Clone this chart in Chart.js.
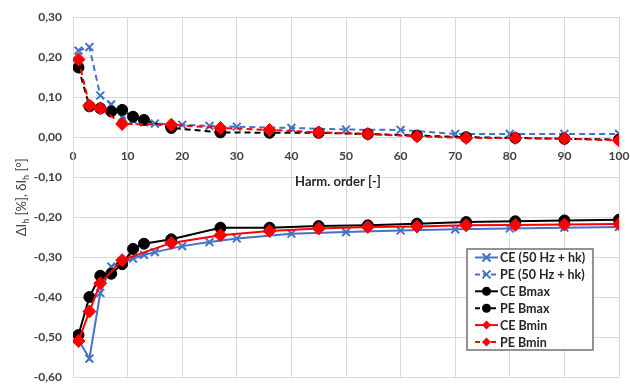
<!DOCTYPE html>
<html>
<head>
<meta charset="utf-8">
<script src="https://cdn.jsdelivr.net/npm/chart.js@4.4.0/dist/chart.umd.min.js"></script>
<style>
  html, body { margin: 0; padding: 0; background: #fff; }
  #wrap { width: 630px; height: 385px; position: relative; }
</style>
</head>
<body>
<div id="wrap"><canvas id="harmChart"></canvas></div>
<script>
// harmonic orders (x values) of each series group
const harmBlue = [1, 3, 5, 7, 9, 11, 13, 15, 20, 25, 30, 40, 50, 60, 70, 80, 90, 100];
const harmBlack = [1, 3, 5, 7, 9, 11, 13, 18, 27, 36, 45, 54, 63, 72, 81, 90, 100];
const harmRed = [1, 3, 5, 9, 18, 27, 36, 45, 54, 63, 72, 81, 90, 100];

// 50 Hz + hk
const ceBlue = [-0.505, -0.553, -0.389, -0.323, -0.312, -0.303, -0.294, -0.287, -0.272, -0.262, -0.253, -0.241, -0.237, -0.233, -0.230, -0.228, -0.226, -0.224];
const peBlue = [0.216, 0.225, 0.104, 0.082, 0.050, 0.042, 0.037, 0.034, 0.031, 0.028, 0.026, 0.023, 0.019, 0.018, 0.008, 0.008, 0.008, 0.008];
// Bmax
const ceBlack = [-0.494, -0.399, -0.346, -0.341, -0.317, -0.279, -0.266, -0.255, -0.226, -0.226, -0.222, -0.220, -0.216, -0.212, -0.210, -0.208, -0.206];
const peBlack = [0.174, 0.077, 0.072, 0.064, 0.068, 0.051, 0.043, 0.023, 0.012, 0.011, 0.011, 0.008, 0.004, 0.000, -0.002, -0.004, -0.006];
// Bmin
const ceRed = [-0.509, -0.435, -0.365, -0.307, -0.264, -0.245, -0.234, -0.228, -0.224, -0.223, -0.220, -0.219, -0.218, -0.217];
const peRed = [0.194, 0.079, 0.072, 0.033, 0.031, 0.023, 0.018, 0.012, 0.008, 0.002, -0.002, -0.002, -0.004, -0.008];

const seriesNames = ['CE (50 Hz + hk)', 'PE (50 Hz + hk)', 'CE Bmax', 'PE Bmax', 'CE Bmin', 'PE Bmin'];
const xTitle = 'Harm. order [-]';
const yTitleParts = [['ΔI', false], ['h', true], [' [%], δI', false], ['h', true], [' [°]', false]];

const BLUE = '#4472C4';
const FONT = 'Lato, "Open Sans", sans-serif';

function pts(xs, ys) {
    return xs.map((x, i) => ({ x: x, y: ys[i] }));
}

function series(label, xs, ys, color, marker, dashed, order) {
    const isCross = marker === 'crossRot';
    return {
        label: label,
        data: pts(xs, ys),
        showLine: true,
        borderColor: color,
        backgroundColor: color,
        borderWidth: 2,
        borderDash: dashed ? [6, 4] : [],
        pointStyle: marker,
        pointRadius: isCross ? 5.5 : (marker === 'circle' ? 5.5 : 6.5),
        pointBorderWidth: isCross ? 2 : 1,
        pointBackgroundColor: color,
        pointBorderColor: color,
        order: order
    };
}

// small marker painter for the legend
function drawMarker(ctx, style, x, y, r, color) {
    ctx.save();
    ctx.fillStyle = color;
    ctx.strokeStyle = color;
    ctx.setLineDash([]);
    ctx.beginPath();
    if (style === 'circle') {
        ctx.arc(x, y, r, 0, Math.PI * 2);
        ctx.fill();
    } else if (style === 'rectRot') {
        ctx.moveTo(x - r, y);
        ctx.lineTo(x, y - r);
        ctx.lineTo(x + r, y);
        ctx.lineTo(x, y + r);
        ctx.closePath();
        ctx.fill();
    } else {
        const d = r * 0.8;
        ctx.lineWidth = 2;
        ctx.moveTo(x - d, y - d); ctx.lineTo(x + d, y + d);
        ctx.moveTo(x + d, y - d); ctx.lineTo(x - d, y + d);
        ctx.stroke();
    }
    ctx.restore();
}

const overlayPlugin = {
    id: 'overlay',
    afterDraw(chart) {
        const ctx = chart.ctx;
        const area = chart.chartArea;
        const y0 = chart.scales.y.getPixelForValue(0);
        ctx.save();

        // x axis title under the zero line
        ctx.font = 'bold 13px ' + FONT;
        ctx.fillStyle = '#262626';
        ctx.textAlign = 'center';
        ctx.textBaseline = 'middle';
        ctx.fillText(xTitle, (area.left + area.right) / 2 - 8, y0 + 45);

        // y axis title with subscripts
        ctx.save();
        ctx.translate(22, (area.top + area.bottom) / 2);
        ctx.rotate(-Math.PI / 2);
        ctx.fillStyle = '#404040';
        ctx.textAlign = 'left';
        ctx.textBaseline = 'alphabetic';
        let total = 0;
        yTitleParts.forEach(p => {
            ctx.font = (p[1] ? '9px ' : '13px ') + FONT;
            total += ctx.measureText(p[0]).width;
        });
        let cx = -total / 2;
        yTitleParts.forEach(p => {
            ctx.font = (p[1] ? '9px ' : '13px ') + FONT;
            ctx.fillText(p[0], cx, p[1] ? 7 : 4);
            cx += ctx.measureText(p[0]).width;
        });
        ctx.restore();

        // legend box
        const bx = 467, by = 249, bw = 126, bh = 101;
        ctx.fillStyle = '#ffffff';
        ctx.fillRect(bx, by, bw, bh);
        ctx.strokeStyle = '#6f6f6f';
        ctx.lineWidth = 1.5;
        ctx.strokeRect(bx, by, bw, bh);
        chart.data.datasets.forEach((ds, i) => {
            const ly = by + 8.5 + i * 16.9;
            ctx.strokeStyle = ds.borderColor;
            ctx.lineWidth = 2;
            ctx.setLineDash(ds.borderDash.length ? [5, 3] : []);
            ctx.beginPath();
            ctx.moveTo(bx + 8, ly);
            ctx.lineTo(bx + 31, ly);
            ctx.stroke();
            ctx.setLineDash([]);
            drawMarker(ctx, ds.pointStyle, bx + 19.5, ly, ds.pointStyle === 'crossRot' ? 5 : 4.5, ds.borderColor);
            ctx.font = 'bold 12.5px ' + FONT;
            ctx.fillStyle = '#262626';
            ctx.textAlign = 'left';
            ctx.textBaseline = 'middle';
            ctx.fillText(ds.label, bx + 33, ly + 0.5);
        });
        ctx.restore();
    }
};

const ctx = document.getElementById('harmChart').getContext('2d');
const harmChart = new Chart(ctx, {
    type: 'scatter',
    data: {
        datasets: [
            series(seriesNames[0], harmBlue, ceBlue, BLUE, 'crossRot', false, 3),
            series(seriesNames[1], harmBlue, peBlue, BLUE, 'crossRot', true, 3),
            series(seriesNames[2], harmBlack, ceBlack, '#000000', 'circle', false, 2),
            series(seriesNames[3], harmBlack, peBlack, '#000000', 'circle', true, 2),
            series(seriesNames[4], harmRed, ceRed, '#FF0000', 'rectRot', false, 1),
            series(seriesNames[5], harmRed, peRed, '#FF0000', 'rectRot', true, 1)
        ]
    },
    options: {
        responsive: true,
        maintainAspectRatio: false,
        animation: false,
        layout: { padding: 0 },
        plugins: {
            legend: { display: false },
            tooltip: { enabled: false }
        },
        scales: {
            x: {
                type: 'linear',
                min: 0,
                max: 100,
                position: { y: 0 },
                afterFit: s => { s.height = 0; s.paddingLeft = 0; s.paddingRight = 11; },
                ticks: {
                    stepSize: 10,
                    padding: 12,
                    color: '#404040',
                    font: { family: FONT, size: 12, weight: 'bold' }
                },
                grid: { color: '#d9d9d9', drawTicks: false },
                border: { color: '#d9d9d9' }
            },
            y: {
                min: -0.6,
                max: 0.3,
                afterFit: s => { s.width = 73; s.paddingTop = 17; s.paddingBottom = 7; },
                ticks: {
                    stepSize: 0.1,
                    padding: 11,
                    color: '#404040',
                    font: { family: FONT, size: 12, weight: 'bold' },
                    callback: v => v.toFixed(2).replace('.', ',')
                },
                grid: { color: '#d9d9d9', drawTicks: false },
                border: { color: '#d9d9d9' }
            }
        }
    },
    plugins: [overlayPlugin]
});
</script>
</body>
</html>
